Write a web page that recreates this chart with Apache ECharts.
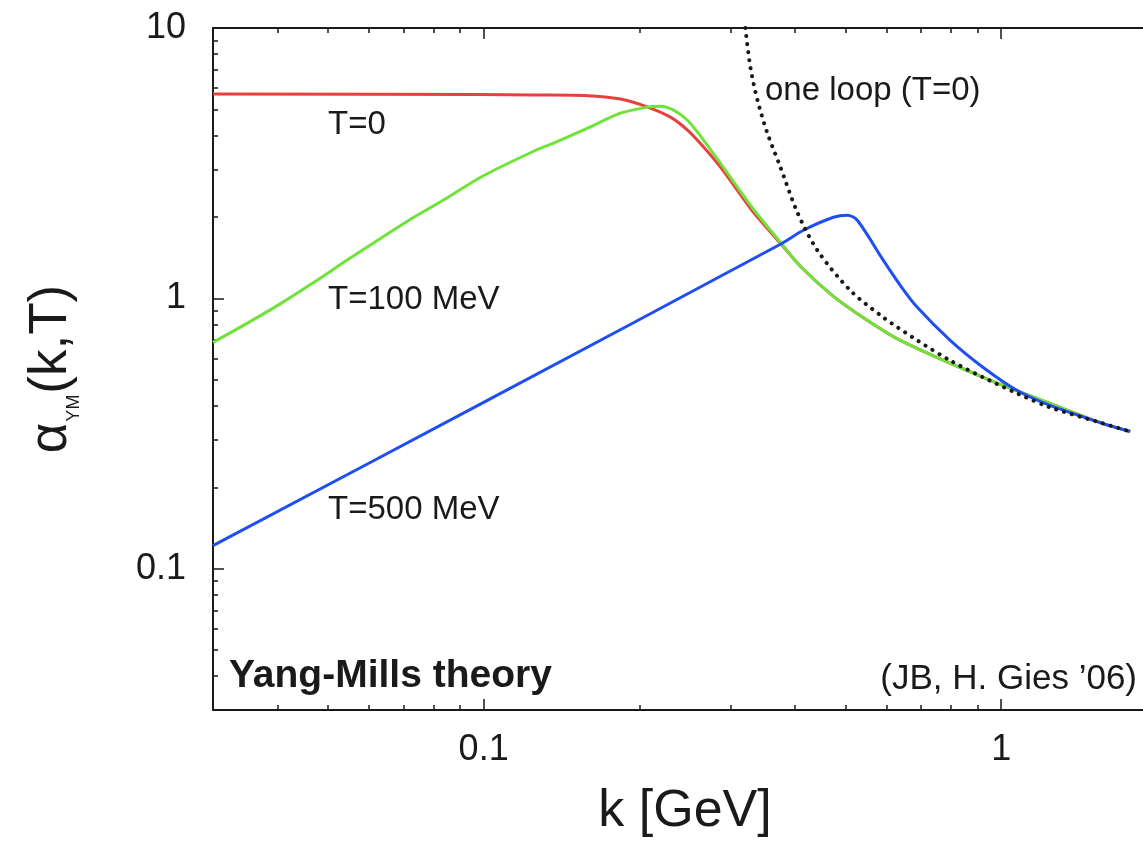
<!DOCTYPE html>
<html>
<head>
<meta charset="utf-8">
<script src="https://cdn.jsdelivr.net/npm/echarts@6/dist/echarts.min.js"></script>
<style>
  html, body { margin: 0; padding: 0; background: #fff; }
  #chart { width: 1143px; height: 841px; }
</style>
</head>
<body>
<div id="chart"></div>
<script>
// axis ranges and ticks
const kRange = [0.03, 2]
const aRange = [0.03, 10]
const kMajor = [0.1, 1]
const kMinor = [0.04, 0.05, 0.06, 0.07, 0.08, 0.09, 0.2, 0.3, 0.4, 0.5, 0.6, 0.7, 0.8, 0.9]
const aMajor = [0.1, 1, 10]
const aMinor = [0.04, 0.05, 0.06, 0.07, 0.08, 0.09, 0.2, 0.3, 0.4, 0.5, 0.6, 0.7, 0.8, 0.9,
  2, 3, 4, 5, 6, 7, 8, 9]

// curves: [k in GeV, alpha]
const t0 = [
  [0.03, 5.70], [0.0987, 5.67], [0.1249, 5.65], [0.1588, 5.62], [0.1838, 5.46],
  [0.2074, 5.10], [0.2296, 4.68], [0.2477, 4.19], [0.266, 3.63], [0.2868, 3.06],
  [0.3092, 2.51], [0.3321, 2.08], [0.3744, 1.60], [0.4093, 1.314], [0.4742, 1.017],
  [0.5511, 0.829], [0.6383, 0.699], [0.9231, 0.51], [1.243, 0.4085], [1.553, 0.347],
  [1.775, 0.3216]
]
const t100 = [
  [0.03, 0.687], [0.0349, 0.808], [0.0406, 0.958], [0.047, 1.146], [0.0544, 1.382],
  [0.0633, 1.668], [0.0733, 1.995], [0.0848, 2.346], [0.0987, 2.806], [0.1249, 3.50],
  [0.1365, 3.75], [0.1588, 4.26], [0.1838, 4.84], [0.2074, 5.10], [0.2197, 5.14],
  [0.2328, 4.97], [0.2477, 4.56], [0.266, 3.85], [0.2868, 3.16], [0.3092, 2.58],
  [0.3321, 2.136], [0.3744, 1.612], [0.4093, 1.314], [0.4742, 1.017], [0.5511, 0.829],
  [0.6383, 0.699], [0.9231, 0.51], [1.243, 0.4085], [1.553, 0.347], [1.775, 0.3216]
]
const t500 = [
  [0.03, 0.1216], [0.1, 0.412], [0.3744, 1.585], [0.4148, 1.786], [0.4742, 1.995],
  [0.5042, 2.029], [0.5272, 1.945], [0.592, 1.382], [0.6383, 1.117], [0.6884, 0.926],
  [0.797, 0.699], [0.9231, 0.555], [1.074, 0.456], [1.243, 0.4015], [1.553, 0.347],
  [1.775, 0.3216]
]
const oneLoop = [
  [0.3204, 10], [0.3276, 7.17], [0.3381, 5.41], [0.3534, 4.08], [0.3744, 3.06],
  [0.4038, 2.08], [0.4413, 1.506], [0.511, 1.07], [0.592, 0.85], [0.6884, 0.699],
  [0.797, 0.589], [0.9231, 0.51], [1.074, 0.445], [1.243, 0.395], [1.553, 0.347],
  [1.775, 0.3216]
]

const FONT = '"Liberation Sans", Arial, Helvetica, sans-serif'
const INK = '#1a1a1a'

function makeAxis(dim, pos, ticks, len, line, labels) {
  const range = dim === 'x' ? kRange : aRange
  const ax = {
    type: 'log',
    logBase: 10,
    gridIndex: 0,
    position: pos,
    min: range[0],
    max: range[1],
    axisLine: { show: line, onZero: false, lineStyle: { color: INK, width: 2 } },
    axisTick: { show: true, inside: true, length: len, customValues: ticks, lineStyle: { color: INK, width: 1.5 } },
    axisLabel: { show: false },
    splitLine: { show: false },
    minorTick: { show: false },
    minorSplitLine: { show: false }
  }
  if (labels) {
    ax.axisLabel = {
      show: true,
      customValues: ticks,
      showMinLabel: true,
      showMaxLabel: true,
      fontSize: 36,
      fontFamily: FONT,
      color: INK,
      margin: dim === 'x' ? 22 : 27,
      formatter: v => String(v)
    }
  }
  return ax
}

const xAxes = [
  makeAxis('x', 'bottom', kMajor, 11, true, true),
  makeAxis('x', 'bottom', kMinor, 5, false, false),
  makeAxis('x', 'top', kMajor, 11, true, false),
  makeAxis('x', 'top', kMinor, 5, false, false)
]
Object.assign(xAxes[0], {
  name: 'k [GeV]',
  nameLocation: 'middle',
  nameGap: 76,
  nameTextStyle: { fontSize: 52, fontFamily: FONT, color: INK }
})

const yAxes = [
  makeAxis('y', 'left', aMajor, 11, true, true),
  makeAxis('y', 'left', aMinor, 5, false, false),
  makeAxis('y', 'right', aMajor, 11, true, false),
  makeAxis('y', 'right', aMinor, 5, false, false)
]
Object.assign(yAxes[0], {
  name: '{a|α}{s|YM}{a|(k,T)}',
  nameLocation: 'middle',
  nameGap: 135,
  nameTextStyle: {
    color: INK,
    rich: {
      a: { fontSize: 53, lineHeight: 53, fontFamily: FONT, color: INK, verticalAlign: 'top' },
      s: { fontSize: 18, lineHeight: 18, fontFamily: FONT, color: INK, verticalAlign: 'top', padding: [40, 1, 0, 1] }
    }
  }
})

function curve(name, data, color, extra) {
  return Object.assign({
    name: name,
    type: 'line',
    xAxisIndex: 0,
    yAxisIndex: 0,
    data: data,
    showSymbol: false,
    smooth: 0.3,
    lineStyle: { color: color, width: 3 },
    itemStyle: { color: color }
  }, extra || {})
}

function note(text, x, y, size, opts) {
  return {
    type: 'text',
    x: x,
    y: y,
    z: 100,
    style: Object.assign({
      text: text,
      fontSize: size,
      fontFamily: FONT,
      fill: INK,
      align: 'left',
      verticalAlign: 'middle'
    }, opts || {})
  }
}

const chart = echarts.init(document.getElementById('chart'))
chart.setOption({
  animation: false,
  backgroundColor: '#fff',
  grid: { left: 213, top: 28, width: 944, height: 682, outerBoundsMode: 'none' },
  xAxis: xAxes,
  yAxis: yAxes,
  series: [
    curve('T=0', t0, '#e8403c'),
    curve('T=100 MeV', t100, '#6fe33c'),
    curve('T=500 MeV', t500, '#1f4ff2'),
    curve('one loop (T=0)', oneLoop, '#222', {
      lineStyle: { color: '#1a1a1a', width: 4, type: [0.1, 8], cap: 'round' }
    })
  ],
  graphic: [
    note('T=0', 328, 125, 33),
    note('T=100 MeV', 328, 300, 33),
    note('T=500 MeV', 328, 510, 33),
    note('one loop (T=0)', 765, 91, 33),
    note('Yang-Mills theory', 229, 676, 39, { fontWeight: 'bold' }),
    note('(JB, H. Gies \u201906)', 1137, 679, 35, { align: 'right' })
  ]
})
</script>
</body>
</html>
